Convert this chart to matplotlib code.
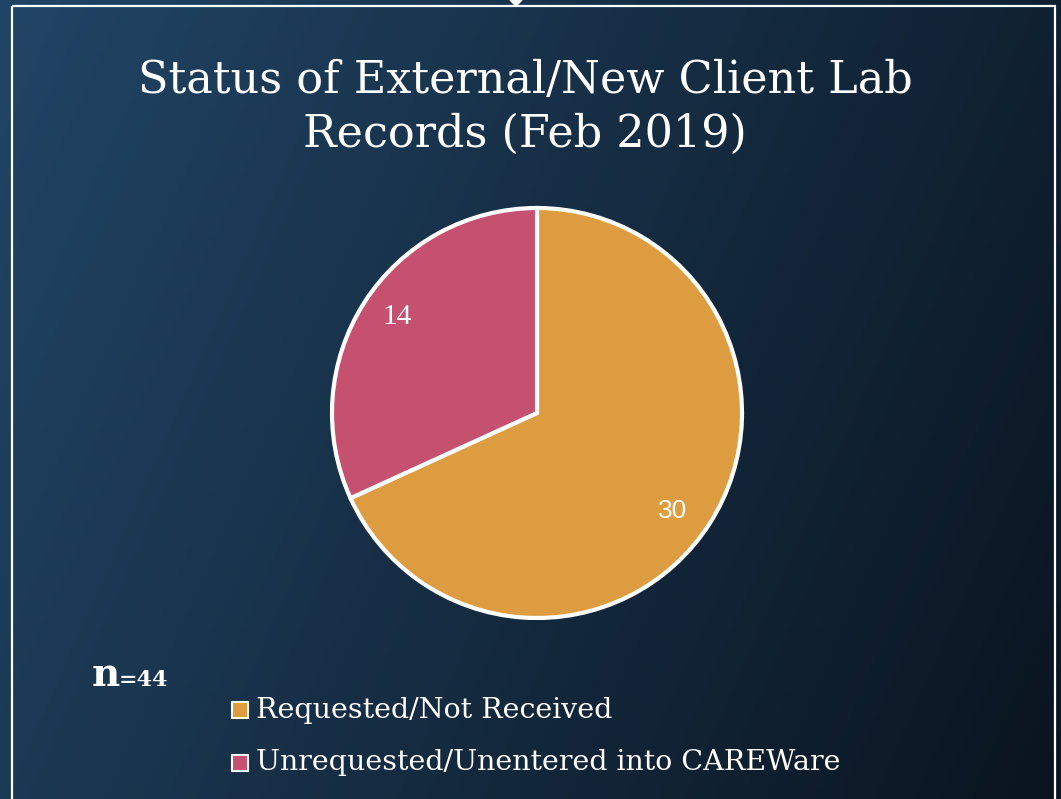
import numpy as np
import matplotlib
matplotlib.use("Agg")
import matplotlib.pyplot as plt
from matplotlib.patches import Rectangle, Polygon

# data
labels = ["Requested/Not Received", "Unrequested/Unentered into CAREWare"]
values = [30, 14]
colors = ["#DE9C40", "#C55070"]
title = "Status of External/New Client Lab\nRecords (Feb 2019)"
n_total = 44

W, H = 1061, 799
fig = plt.figure(figsize=(W / 100, H / 100), dpi=100)

# background gradient (blue on left, near black on right)
bg = fig.add_axes([0, 0, 1, 1])
bg.set_xlim(0, W)
bg.set_ylim(H, 0)
bg.axis("off")
xx = np.linspace(0, 1, 256)
yy = np.linspace(0, 1, 256)
gx, gy = np.meshgrid(xx, yy)
t = np.clip(0.75 * gx + 0.25 * gy, 0, 1)
c0 = np.array([0x21, 0x45, 0x66]) / 255
c1 = np.array([0x0a, 0x14, 0x1f]) / 255
img = c0[None, None, :] * (1 - t[..., None]) + c1[None, None, :] * t[..., None]
bg.imshow(img, extent=[0, W, H, 0], aspect="auto", zorder=0)

# slide frame
bg.add_patch(Rectangle((12, 6), 1043, 820, fill=False, edgecolor="white", lw=1.6, zorder=1))
bg.add_patch(Polygon([[510, 0], [522, 0], [516, 6]], closed=True, color="white", zorder=1))

# title
bg.text(525, 107, title, ha="center", va="center", color="white",
        fontsize=32, family="DejaVu Serif", linespacing=1.32, zorder=2)

# n label
bg.text(92, 686, "n", ha="left", va="baseline", color="white", fontsize=28,
        family="DejaVu Serif", fontweight="bold", zorder=3)
bg.text(119, 686, "=" + str(n_total), ha="left", va="baseline", color="white",
        fontsize=16, family="DejaVu Serif", fontweight="bold", zorder=3)

# legend
for i, (lab, col) in enumerate(zip(labels, colors)):
    y = 710 + i * 53
    bg.add_patch(Rectangle((232, y - 8), 16, 16, facecolor=col, edgecolor="white", lw=1.5, zorder=3))
    bg.text(256, y, lab, ha="left", va="center", color="white", fontsize=20.5,
            family="DejaVu Serif", zorder=3)

# pie
r = 205
cx, cy = 537, 413
ax = fig.add_axes([(cx - r) / W, 1 - (cy + r) / H, 2 * r / W, 2 * r / H])
wedges, _ = ax.pie(values, colors=colors, startangle=90, counterclock=False,
                   wedgeprops=dict(edgecolor="white", linewidth=3))
ax.set_xlim(-1, 1)
ax.set_ylim(-1, 1)
ax.set_aspect("equal")
ax.axis("off")

# value labels (positions in pie coordinates)
ax.text((673 - cx) / r, (cy - 511) / r, str(values[0]), ha="center", va="center",
        color="white", fontsize=19, family="Liberation Sans")
ax.text((397 - cx) / r, (cy - 317) / r, str(values[1]), ha="center", va="center",
        color="white", fontsize=21, family="Liberation Serif")

fig.savefig("out.png", dpi=100)
